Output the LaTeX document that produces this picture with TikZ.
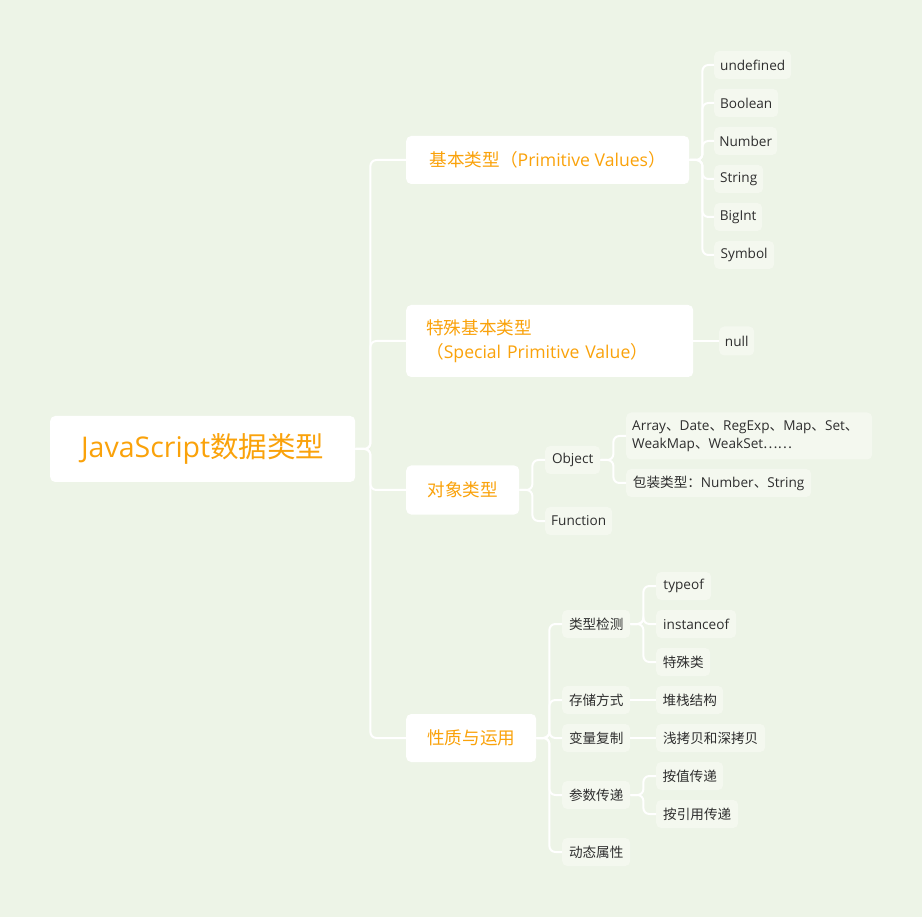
\documentclass[tikz,border=0pt]{standalone}
\usepackage{fontspec}
\setmainfont{Open Sans}
\newfontfamily\cjk{Noto Sans CJK SC}
\newcommand\zh[1]{{\cjk #1}}
\definecolor{bgc}{HTML}{EDF4E7}
\definecolor{leafc}{HTML}{F4F8EF}
\definecolor{orng}{HTML}{FAA20A}
\definecolor{darktxt}{HTML}{2E2E2E}
\tikzset{
  box/.style={rounded corners=5pt, inner sep=0pt, anchor=west},
  rootbox/.style={box, fill=white, text=orng, minimum height=66pt, font=\fontsize{28.5}{32}\selectfont},
  mainbox/.style={box, fill=white, text=orng, minimum height=48pt, font=\fontsize{17.6}{24}\selectfont},
  leafbox/.style={box, fill=leafc, text=darktxt, minimum height=28pt, font=\fontsize{13.6}{18}\selectfont},
  conn/.style={draw=white, line width=2pt, rounded corners=6pt},
}
\begin{document}
\begin{tikzpicture}[x=1pt, y=-1pt]
\fill[bgc] (0,0) rectangle (922,917);
\useasboundingbox (0,0) rectangle (922,917);

% root
\node[rootbox, minimum width=305pt] (root) at (50,449) {JavaScript\zh{数据类型}};

% main branches
\node[mainbox, minimum width=283pt] (b1) at (406,160) {\zh{基本类型（}Primitive Values\zh{）}};
\node[mainbox, minimum height=72pt, text width=247pt, align=left, inner xsep=20pt] (b2) at (406,341) {\zh{特殊基本类型}\\\zh{（}Special Primitive Value\zh{）}};
\node[mainbox, minimum width=113pt, minimum height=49pt] (b3) at (406,490) {\zh{对象类型}};
\node[mainbox, minimum width=130pt] (b4) at (406,738) {\zh{性质与运用}};

% primitive leaves
\node[leafbox, minimum width=77pt] (l1) at (714,65) {undefined};
\node[leafbox, minimum width=64pt] (l2) at (714,103) {Boolean};
\node[leafbox, minimum width=63pt] (l3) at (714,141) {Number};
\node[leafbox, minimum width=49pt] (l4) at (714,179) {String};
\node[leafbox, minimum width=48pt] (l5) at (714,217) {BigInt};
\node[leafbox, minimum width=60pt] (l6) at (714,255) {Symbol};

% special
\node[leafbox, minimum width=35pt, minimum height=29pt] (nul) at (719,341) {null};

% object
\node[leafbox, minimum width=55pt] (obj) at (545,460) {Object};
\node[leafbox, minimum width=67pt] (fun) at (545,521) {Function};
\node[leafbox, minimum height=47pt, text width=234pt, align=left, inner xsep=6pt] (arr) at (626,436) {Array\zh{、}Date\zh{、}RegExp\zh{、}Map\zh{、}Set\zh{、}\\WeakMap\zh{、}WeakSet\zh{……}};
\node[leafbox, minimum width=185pt] (wrap) at (626,483) {\zh{包装类型：}Number\zh{、}String};

% properties
\node[leafbox, minimum width=68pt] (p1) at (562,624) {\zh{类型检测}};
\node[leafbox, minimum width=55pt] (p1a) at (656,586) {typeof};
\node[leafbox, minimum width=80pt] (p1b) at (656,624) {instanceof};
\node[leafbox, minimum width=54pt] (p1c) at (656,662) {\zh{特殊类}};
\node[leafbox, minimum width=68pt] (p2) at (562,700) {\zh{存储方式}};
\node[leafbox, minimum width=67pt] (p2a) at (656,700) {\zh{堆栈结构}};
\node[leafbox, minimum width=68pt] (p3) at (562,738) {\zh{变量复制}};
\node[leafbox, minimum width=109pt] (p3a) at (656,738) {\zh{浅拷贝和深拷贝}};
\node[leafbox, minimum width=68pt] (p4) at (562,795) {\zh{参数传递}};
\node[leafbox, minimum width=67pt] (p4a) at (656,776) {\zh{按值传递}};
\node[leafbox, minimum width=82pt] (p4b) at (656,814) {\zh{按引用传递}};
\node[leafbox, minimum width=68pt] (p5) at (562,852) {\zh{动态属性}};

% connectors
\foreach \t in {b1,b2,b3,b4} \draw[conn] (root.east) -- ++(15,0) |- (\t.west);
\foreach \t in {l1,l2,l3,l4,l5,l6} \draw[conn] (b1.east) -- ++(13,0) |- (\t.west);
\draw[conn] (b2.east) -- (nul.west);
\foreach \t in {obj,fun} \draw[conn] (b3.east) -- ++(13,0) |- (\t.west);
\foreach \t in {arr,wrap} \draw[conn] (obj.east) -- ++(13,0) |- (\t.west);
\foreach \t in {p1,p2,p3,p4,p5} \draw[conn] (b4.east) -- ++(13,0) |- (\t.west);
\foreach \t in {p1a,p1b,p1c} \draw[conn] (p1.east) -- ++(13,0) |- (\t.west);
\draw[conn] (p2.east) -- (p2a.west);
\draw[conn] (p3.east) -- (p3a.west);
\foreach \t in {p4a,p4b} \draw[conn] (p4.east) -- ++(13,0) |- (\t.west);
\end{tikzpicture}
\end{document}
